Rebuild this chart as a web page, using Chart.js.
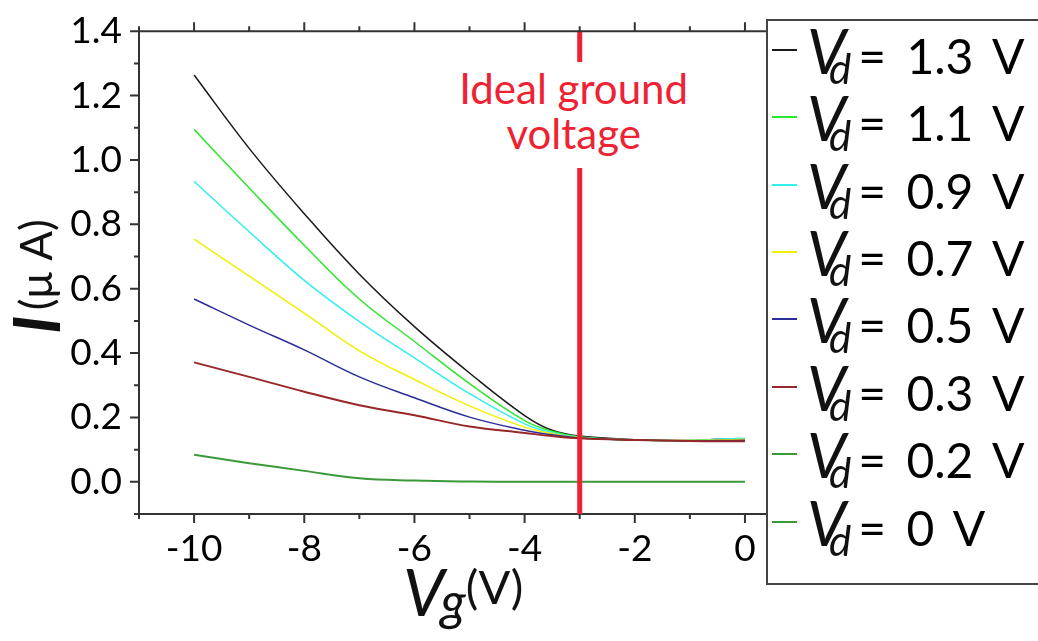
<!DOCTYPE html>
<html>
<head>
<meta charset="utf-8">
<script src="https://cdn.jsdelivr.net/npm/chart.js@4.4.1/dist/chart.umd.min.js"></script>
<style>
  body { margin: 0; background: #fff; }
  #wrap { position: relative; width: 1038px; height: 641px; overflow: hidden; font-family: Lato, "Open Sans", sans-serif; color: #111; }
  #c { position: absolute; left: 0; top: 0; }
  #note { position: absolute; background: #fff; color: #ee2233; font-size: 42px; line-height: 45px; text-align: center; padding: 4px 6px 12px 6px; }
  #ytitle { position: absolute; white-space: nowrap; transform-origin: 0 0; transform: rotate(-90deg); line-height: 1.2; }
  #xtitle { position: absolute; white-space: nowrap; line-height: 1.2; }
  #legend { position: absolute; left: 766px; top: 19px; width: 320px; height: 562px; border: 2px solid #444; background: #fff; }
  .row { position: absolute; left: 4px; display: flex; align-items: baseline; white-space: nowrap; }
  .swatch { position: absolute; left: 0; width: 25px; height: 2px; }
  .vsym { font-style: italic; font-size: 62px; line-height: 62px; margin-left: 35px; }
  .sub { font-style: italic; font-size: 42px; line-height: 42px; position: relative; top: 10px; margin-left: -17px; margin-right: 7px; }
  .eq { font-size: 48px; line-height: 48px; word-spacing: 8px; color: #000; }
</style>
</head>
<body>
<div id="wrap">
  <canvas id="c" width="1038" height="641"></canvas>
  <div id="note">Ideal ground<br>voltage</div>
  <div id="ytitle"><span style="font-style:italic;font-weight:700;font-size:65px">I</span><span style="font-size:44px;position:relative;top:-8px">&#8201;(μ A)</span></div>
  <div id="xtitle"><span style="font-style:italic;font-size:66px">V</span><span style="font-style:italic;font-size:52px;position:relative;top:4px;margin-left:-4px">g</span><span style="font-size:47px;position:relative;top:-12px">(V)</span></div>
  <div id="legend"></div>
</div>
<script>
// gate voltage (V)
const vg = [-10, -9, -8, -7, -6, -5, -4, -3.5, -3, -2, -1, -0.5, 0];

// drain current (uA) for each drain voltage
const i13 = [1.264, 1.036, 0.833, 0.645, 0.482, 0.338, 0.206, 0.160, 0.142, 0.131, 0.128, 0.132, 0.134];
const i11 = [1.095, 0.913, 0.735, 0.568, 0.436, 0.305, 0.190, 0.157, 0.140, 0.130, 0.128, 0.131, 0.133];
const i09 = [0.933, 0.777, 0.626, 0.498, 0.385, 0.274, 0.180, 0.153, 0.138, 0.130, 0.128, 0.132, 0.135];
const i07 = [0.754, 0.639, 0.524, 0.407, 0.318, 0.236, 0.170, 0.150, 0.137, 0.130, 0.128, 0.130, 0.132];
const i05 = [0.568, 0.487, 0.410, 0.326, 0.261, 0.201, 0.160, 0.146, 0.136, 0.130, 0.127, 0.128, 0.129];
const i03 = [0.371, 0.326, 0.280, 0.238, 0.207, 0.172, 0.152, 0.142, 0.135, 0.130, 0.127, 0.126, 0.126];
const i02 = [0.084, 0.058, 0.034, 0.011, 0.004, 0.001, 0, 0, 0, 0, 0, 0, 0];
const i00 = [];

const vdLabels = ['1.3', '1.1', '0.9', '0.7', '0.5', '0.3', '0.2', '0'];
const vdColors = ['#1a1a1a', '#2ee62e', '#33eeee', '#f0f000', '#2d2d99', '#982828', '#3a9a3a', '#3a9a3a'];
const series = [i13, i11, i09, i07, i05, i03, i02, i00];

const xTicks = [-10, -8, -6, -4, -2, 0];
const xMinor = [-11, -9, -7, -5, -3, -1];
const yTicks = [0, 0.2, 0.4, 0.6, 0.8, 1.0, 1.2, 1.4];
const yMinor = [-0.1, 0.1, 0.3, 0.5, 0.7, 0.9, 1.1, 1.3];
const groundV = -3;

const datasets = series.map((s, k) => ({
    label: 'Vd = ' + vdLabels[k] + ' V',
    data: s.map((v, j) => ({x: vg[j], y: v})),
    borderColor: vdColors[k],
    borderWidth: k >= 5 ? 2 : 1.5,
    pointRadius: 0,
    tension: 0.4,
    order: 10 - k
}));

const axisPlugin = {
    id: 'axisExtras',
    afterDatasetsDraw(chart) {
        const {ctx, chartArea: a, scales: {x}} = chart;
        const px = x.getPixelForValue(groundV);
        ctx.save();
        ctx.strokeStyle = '#ee2233';
        ctx.lineWidth = 5;
        ctx.beginPath();
        ctx.moveTo(px, a.top);
        ctx.lineTo(px, a.bottom);
        ctx.stroke();
        ctx.restore();
    },
    afterDraw(chart) {
        const {ctx, chartArea: a, scales: {x, y}} = chart;
        ctx.save();
        ctx.strokeStyle = '#333';
        ctx.lineWidth = 2;
        ctx.beginPath();
        ctx.moveTo(a.left - 1, a.top);
        ctx.lineTo(a.right, a.top);
        xTicks.forEach(v => {
            const p = x.getPixelForValue(v);
            ctx.moveTo(p, a.bottom); ctx.lineTo(p, a.bottom + 9);
            ctx.moveTo(p, a.top); ctx.lineTo(p, a.top - 9);
        });
        xMinor.forEach(v => {
            const p = x.getPixelForValue(v);
            ctx.moveTo(p, a.bottom); ctx.lineTo(p, a.bottom + 5);
            ctx.moveTo(p, a.top); ctx.lineTo(p, a.top - 5);
        });
        yTicks.forEach(v => {
            const p = y.getPixelForValue(v);
            ctx.moveTo(a.left, p); ctx.lineTo(a.left - 9, p);
        });
        yMinor.forEach(v => {
            const p = y.getPixelForValue(v);
            ctx.moveTo(a.left, p); ctx.lineTo(a.left - 5, p);
        });
        ctx.stroke();
        ctx.restore();
    },
    afterRender(chart) {
        const {chartArea: a, scales: {x}} = chart;
        const note = document.getElementById('note');
        const px = x.getPixelForValue(groundV);
        note.style.left = (px - 6 - note.offsetWidth / 2) + 'px';
        note.style.top = '62px';
        const yt = document.getElementById('ytitle');
        yt.style.left = '-4px';
        yt.style.top = '334px';
        const xt = document.getElementById('xtitle');
        xt.style.left = ((a.left + a.right) / 2 + 10 - xt.offsetWidth / 2) + 'px';
        xt.style.top = '551px';
    }
};

// legend built from the same label / colour arrays
const legend = document.getElementById('legend');
vdLabels.forEach((lab, k) => {
    const lineY = 50 + k * 67.4;
    const row = document.createElement('div');
    row.className = 'row';
    row.style.top = (lineY - 52.2) + 'px';
    row.innerHTML = '<span class="swatch" style="top:30px;background:' + vdColors[k] + '"></span>' +
        '<span class="vsym">V</span><span class="sub">d</span>' +
        '<span class="eq">= ' + lab + ' V</span>';
    legend.appendChild(row);
});

new Chart(document.getElementById('c'), {
    type: 'line',
    data: {datasets: datasets},
    options: {
        responsive: false,
        animation: false,
        devicePixelRatio: 1,
        layout: {padding: {top: 28, right: 271, left: 0, bottom: 0}},
        plugins: {legend: {display: false}, tooltip: {enabled: false}},
        scales: {
            x: {
                type: 'linear',
                min: -11,
                max: 0.4,
                afterBuildTicks: s => { s.ticks = xTicks.map(v => ({value: v})); },
                afterFit: s => { s.height = 127; },
                grid: {display: false},
                border: {display: true, color: '#333', width: 2},
                ticks: {
                    padding: 5,
                    color: '#000',
                    font: {family: 'Lato', size: 37},
                    maxRotation: 0,
                    callback: v => String(v)
                }
            },
            y: {
                type: 'linear',
                min: -0.1,
                max: 1.4,
                afterBuildTicks: s => { s.ticks = yTicks.map(v => ({value: v})); },
                afterFit: s => { s.width = 139; },
                grid: {display: false},
                border: {display: true, color: '#333', width: 2},
                ticks: {
                    padding: 9,
                    color: '#000',
                    font: {family: 'Lato', size: 37},
                    callback: v => v.toFixed(1)
                }
            }
        }
    },
    plugins: [axisPlugin]
});
</script>
</body>
</html>
